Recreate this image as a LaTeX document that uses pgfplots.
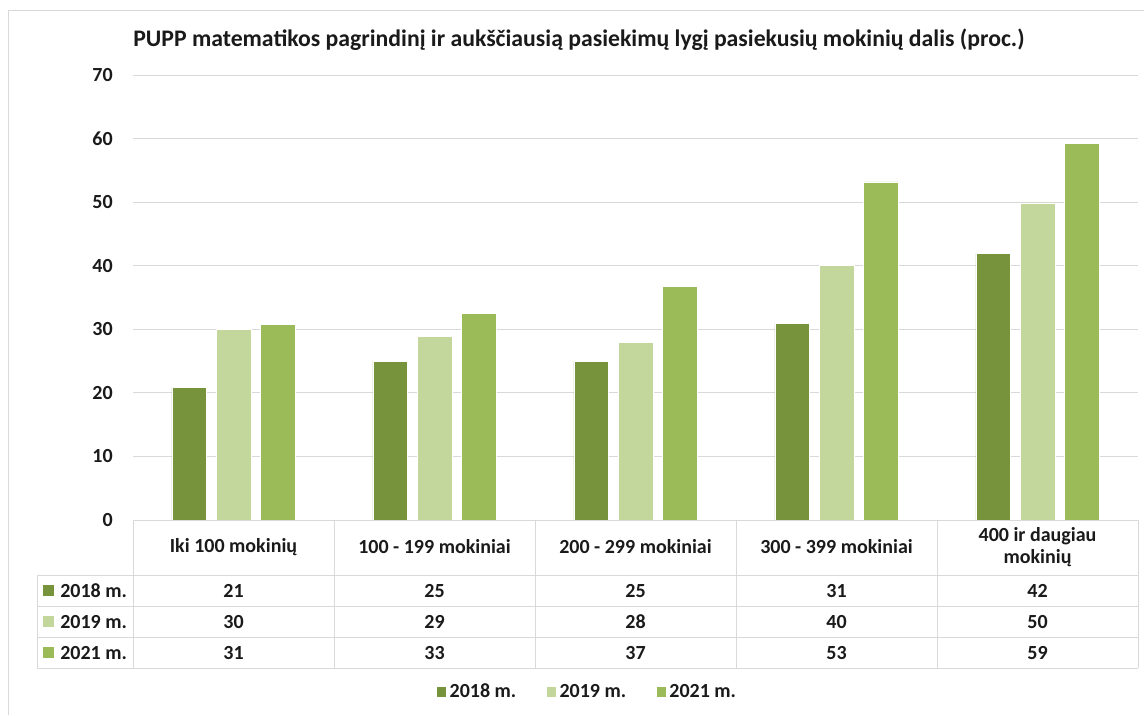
\documentclass[border=0pt]{standalone}
\usepackage{pgfplots}
\pgfplotsset{compat=1.18}
\usepackage{fontspec}
\setmainfont{Carlito}
\definecolor{c18}{HTML}{77933C}
\definecolor{c19}{HTML}{C3D69B}
\definecolor{c21}{HTML}{9BBB59}
\definecolor{gridc}{HTML}{D9D9D9}
\definecolor{txt}{HTML}{1A1A1A}
\newcommand\tf{\fontsize{15}{17}\selectfont\bfseries}
\begin{document}
\begin{tikzpicture}
\useasboundingbox (0,0) rectangle (858pt,-536.25pt);
\begin{axis}[
  at={(99.75pt,-390pt)}, anchor=south west,
  scale only axis, width=753.75pt, height=333.75pt,
  xmin=-0.5, xmax=4.5, ymin=0, ymax=70,
  ytick={0,10,...,70}, xtick=\empty,
  ymajorgrids, grid style={gridc, line width=0.75pt},
  axis line style={draw=none}, tick style={draw=none},
  ybar=7.35pt, bar width=25.9pt,
  /pgf/number format/assume math mode=true,
  yticklabel style={font=\tf, text=txt, inner sep=0pt, xshift=-15pt},
  clip=false,
  legend style={at={(0.452,-0.3865)}, anchor=center, draw=none, fill=none,
    legend columns=3, font=\tf, text=txt,
    /tikz/every even column/.append style={column sep=20pt}},
  legend image code/.code={\fill[#1] (0pt,-4pt) rectangle (8pt,4pt);},
]
\addplot[fill=c18, draw=white, line width=0.4pt] coordinates {(0,20.9) (1,25.0) (2,25.0) (3,30.9) (4,41.9)};
\addlegendentry{2018 m.}
\addplot[fill=c19, draw=white, line width=0.4pt] coordinates {(0,30.0) (1,28.9) (2,27.9) (3,40.0) (4,49.9)};
\addlegendentry{2019 m.}
\addplot[fill=c21, draw=white, line width=0.4pt] coordinates {(0,30.8) (1,32.5) (2,36.8) (3,53.2) (4,59.2)};
\addlegendentry{2021 m.}
\end{axis}
\begin{scope}[x=0.75pt,y=-0.75pt]
  % outer frame
  \draw[gridc, line width=0.75pt] (8,715) -- (8,10) -- (1144,10);
  % title
  \node[anchor=base west, inner sep=0pt, font=\fontsize{17.8}{20}\selectfont\bfseries, text=txt] at (133,46)
    {PUPP matematikos pagrindinį ir aukščiausią pasiekimų lygį pasiekusių mokinių dalis (proc.)};
  % table lines
  \begin{scope}[gridc, line width=0.75pt]
    \draw (133,520) -- (1138,520);
    \foreach \x in {133,334,535,736,937,1138} \draw (\x,520) -- (\x,668);
    \draw (37,575) -- (37,668);
    \foreach \y in {575,606,637,668} \draw (37,\y) -- (1138,\y);
  \end{scope}
  \begin{scope}[every node/.style={font=\tf, text=txt, inner sep=0pt}]
    \node at (233.5,547) {Iki 100 mokinių};
    \node at (434.5,547) {100 - 199 mokiniai};
    \node at (635.5,547) {200 - 299 mokiniai};
    \node at (836.5,547) {300 - 399 mokiniai};
    \node[align=center] at (1037.5,547) {400 ir daugiau\\mokinių};
    % row labels
    \fill[c18] (43,585) rectangle (54,596);
    \fill[c19] (43,616) rectangle (54,627);
    \fill[c21] (43,647) rectangle (54,658);
    \node[anchor=west] at (60,590.5) {2018 m.};
    \node[anchor=west] at (60,621.5) {2019 m.};
    \node[anchor=west] at (60,652.5) {2021 m.};
    % values
    \foreach \x/\a/\b/\c in {233.5/21/30/31, 434.5/25/29/33, 635.5/25/28/37, 836.5/31/40/53, 1037.5/42/50/59} {
      \node at (\x,590.5) {\a};
      \node at (\x,621.5) {\b};
      \node at (\x,652.5) {\c};
    }
  \end{scope}
\end{scope}
\end{tikzpicture}
\end{document}
